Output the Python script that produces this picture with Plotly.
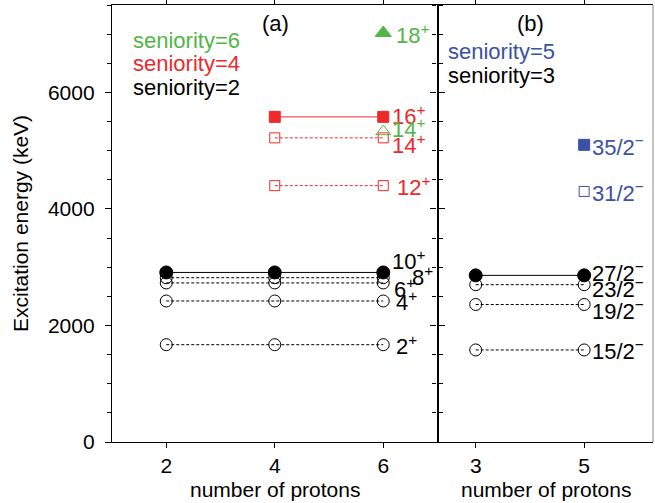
import plotly.graph_objects as go

W, H = 655, 503
GREEN = "#52b548"
RED = "#ec2a2c"
BLUE = "#3b51a3"
BLACK = "#000000"
FONT = "Liberation Sans, Arial, Helvetica, sans-serif"

# ---------------- data ----------------
# Panel (a): even number of protons
protons_a = [2, 4, 6]
sen2_labels = ["2<sup>+</sup>", "4<sup>+</sup>", "6<sup>+</sup>", "8<sup>+</sup>", "10<sup>+</sup>"]
sen2_energy = [1670, 2420, 2730, 2820, 2910]
sen4_protons = [4, 6]
sen4_labels = ["12<sup>+</sup>", "14<sup>+</sup>", "16<sup>+</sup>"]
sen4_energy = [4400, 5220, 5580]
sen6_protons = [6]
sen6_labels = ["14<sup>+</sup>", "18<sup>+</sup>"]
sen6_energy = [5330, 7020]

# Panel (b): odd number of protons
protons_b = [3, 5]
sen3_labels = ["15/2<sup>−</sup>", "19/2<sup>−</sup>", "23/2<sup>−</sup>", "27/2<sup>−</sup>"]
sen3_energy = [1580, 2360, 2700, 2860]
sen5_protons = [5]
sen5_labels = ["31/2<sup>−</sup>", "35/2<sup>−</sup>"]
sen5_energy = [4300, 5100]

yticks = [0, 2000, 4000, 6000]

# ---------------- layout geometry (pixels) ----------------
XA0, XA1, XB1 = 112, 437.5, 653
YT, YB = 5, 442
xa_dom = [XA0 / W, XA1 / W]
xb_dom = [XA1 / W, XB1 / W]
y_dom = [1 - YB / H, 1 - YT / H]

# label offsets (xshift, yshift) in pixels, keyed by (series, index)
offs = {
    ("s2", 0): (11, 0), ("s2", 1): (11, 0), ("s2", 2): (9, -5),
    ("s2", 3): (27, 2), ("s2", 4): (7, 12),
    ("s4", 0): (12, 0), ("s4", 1): (7, -6), ("s4", 2): (7, 2),
    ("s6", 0): (7, 3), ("s6", 1): (11, -1),
    ("s3", 0): (6, 0), ("s3", 1): (6, -6), ("s3", 2): (6, -3), ("s3", 3): (6, 3),
    ("s5", 0): (6, -1), ("s5", 1): (6, -1),
}

fig = go.Figure()
annotations = []


def add_levels(key, xs, energies, labels, color, sym_open, sym_fill, size_open, size_fill, xa, ya, xlab):
    n = len(energies)
    for i in range(n):
        e = energies[i]
        filled = (i == n - 1)
        fig.add_trace(go.Scatter(
            x=xs, y=[e] * len(xs), xaxis=xa, yaxis=ya,
            mode="lines+markers" if len(xs) > 1 else "markers",
            line=dict(color=color, width=1, dash="solid" if filled else "3px,2px"),
            marker=dict(
                symbol=sym_fill if filled else sym_open,
                size=size_fill if filled else size_open,
                color=color,
                line=dict(color=color, width=1),
            ),
            showlegend=False, hoverinfo="skip",
        ))
        dx, dy = offs[(key, i)]
        annotations.append(dict(
            x=xlab, y=e, xref=xa, yref=ya, text=labels[i], showarrow=False,
            xanchor="left", yanchor="middle", xshift=dx, yshift=dy,
            font=dict(family=FONT, size=22, color=color),
        ))


add_levels("s2", protons_a, sen2_energy, sen2_labels, BLACK, "circle-open", "circle", 12, 13, "x", "y", 6)
add_levels("s4", sen4_protons, sen4_energy, sen4_labels, RED, "square-open", "square", 10, 11, "x", "y", 6)
add_levels("s6", sen6_protons, sen6_energy, sen6_labels, GREEN, "triangle-up-open", "triangle-up", 13, 14, "x", "y", 6)
add_levels("s3", protons_b, sen3_energy, sen3_labels, BLACK, "circle-open", "circle", 12, 13, "x2", "y2", 5)
add_levels("s5", sen5_protons, sen5_energy, sen5_labels, BLUE, "square-open", "square", 10, 11, "x2", "y2", 5)


def ptext(txt, px, py, color=BLACK, size=22, xanchor="left", angle=0):
    annotations.append(dict(
        x=px / W, y=1 - py / H, xref="paper", yref="paper", text=txt, showarrow=False,
        xanchor=xanchor, yanchor="middle", textangle=angle,
        font=dict(family=FONT, size=size, color=color),
    ))


ptext("seniority=6", 131, 40, GREEN)
ptext("seniority=4", 131, 64, RED)
ptext("seniority=2", 131, 87, BLACK)
ptext("seniority=5", 446, 52, BLUE)
ptext("seniority=3", 446, 75, BLACK)
ptext("(a)", 275, 23, BLACK, 22, "center")
ptext("(b)", 530, 23, BLACK, 22, "center")
ptext("number of protons", 275, 489, BLACK, 21, "center")
ptext("number of protons", 546, 489, BLACK, 21, "center")
ptext("Excitation energy (keV)", 20, 224, BLACK, 21, "center", -90)

axis_common = dict(showgrid=False, zeroline=False, showline=True, linecolor=BLACK, linewidth=1.3,
                   tickcolor=BLACK, tickwidth=1, ticks="outside",
                   tickfont=dict(family=FONT, size=21, color=BLACK))

fig.update_layout(
    width=W, height=H, margin=dict(l=0, r=0, t=0, b=0),
    paper_bgcolor="white", plot_bgcolor="white",
    font=dict(family=FONT, color=BLACK),
    xaxis=dict(axis_common, domain=xa_dom, range=[1, 7], tickvals=protons_a, ticklen=5,
               mirror="ticks", anchor="y", automargin=False),
    xaxis2=dict(axis_common, domain=xb_dom, range=[2.295, 6.27], tickvals=protons_b, ticklen=5,
                mirror="ticks", anchor="y2", automargin=False),
    yaxis=dict(axis_common, domain=y_dom, range=[0, 7500], tickvals=yticks, ticklen=6,
               mirror="ticks", anchor="x", automargin=False, ticklabelstandoff=6,
               minor=dict(dtick=500, ticklen=4, ticks="outside", tickcolor=BLACK, tickwidth=1)),
    yaxis2=dict(axis_common, domain=y_dom, range=[0, 7500], tickvals=yticks, ticklen=6,
                showticklabels=False, anchor="x2", matches="y", automargin=False,
                minor=dict(dtick=500, ticklen=4, ticks="outside", tickcolor=BLACK, tickwidth=1)),
    annotations=annotations,
    shapes=[dict(type="line", xref="paper", yref="paper", x0=xb_dom[1], x1=xb_dom[1],
                 y0=y_dom[0], y1=y_dom[1], line=dict(color="#888888", width=1))],
)

fig.write_html("out.html")
